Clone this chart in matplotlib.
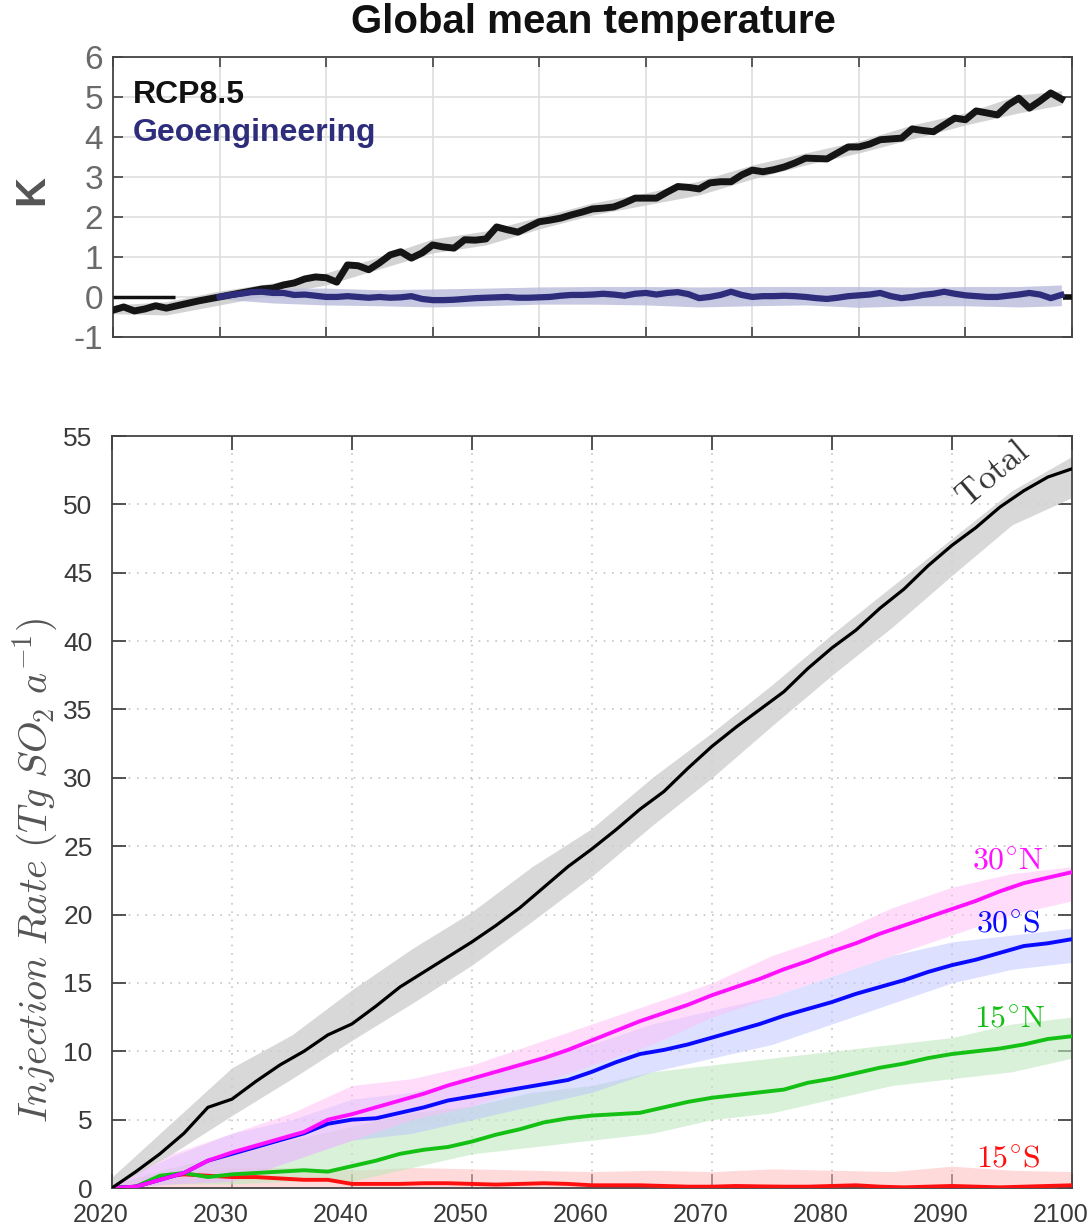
import numpy as np
import matplotlib
matplotlib.use("Agg")
import matplotlib.pyplot as plt
import matplotlib.transforms as mtransforms

plt.rcParams['font.family'] = ['Liberation Sans', 'DejaVu Sans']
plt.rcParams['mathtext.fontset'] = 'cm'
plt.rcParams['axes.unicode_minus'] = False

# ---- top panel data: global mean temperature (K) ----
rcp_years = list(range(2010, 2100))
rcp85 = [-0.33, -0.25, -0.35, -0.30, -0.22, -0.28, -0.22, -0.16, -0.10, -0.05,
         0.00, 0.05, 0.10, 0.15, 0.20, 0.22, 0.30, 0.35, 0.45, 0.50,
         0.48, 0.37, 0.80, 0.78, 0.68, 0.85, 1.05, 1.13, 0.97, 1.10,
         1.30, 1.25, 1.22, 1.43, 1.42, 1.45, 1.75, 1.68, 1.62, 1.75,
         1.88, 1.92, 1.97, 2.05, 2.12, 2.20, 2.22, 2.25, 2.35, 2.47,
         2.47, 2.47, 2.62, 2.76, 2.74, 2.70, 2.85, 2.88, 2.88, 3.05,
         3.17, 3.13, 3.18, 3.25, 3.35, 3.47, 3.46, 3.45, 3.60, 3.75,
         3.75, 3.82, 3.93, 3.95, 3.97, 4.20, 4.16, 4.13, 4.30, 4.47,
         4.43, 4.65, 4.60, 4.55, 4.80, 4.97, 4.72, 4.90, 5.10, 4.95]

geo_years = list(range(2020, 2100))
geo = [0.00, 0.05, 0.08, 0.12, 0.13, 0.10, 0.10, 0.05, 0.06, 0.03,
       0.00, 0.00, 0.02, 0.00, -0.02, 0.00, -0.02, -0.01, 0.02, -0.05,
       -0.08, -0.08, -0.07, -0.05, -0.03, -0.02, -0.01, 0.00, -0.02, -0.02,
       -0.01, 0.00, 0.03, 0.05, 0.05, 0.06, 0.08, 0.06, 0.03, 0.08,
       0.10, 0.06, 0.10, 0.12, 0.07, -0.03, 0.00, 0.05, 0.13, 0.05,
       0.00, 0.02, 0.02, 0.03, 0.02, 0.00, -0.03, -0.05, -0.02, 0.02,
       0.04, 0.06, 0.10, 0.02, -0.03, 0.00, 0.05, 0.08, 0.13, 0.08,
       0.04, 0.02, 0.00, 0.00, 0.03, 0.06, 0.10, 0.06, -0.03, 0.05]

# ensemble spread envelopes
rcp_band_years = [2010, 2015, 2020, 2025, 2030, 2035, 2040, 2045, 2050, 2055,
                  2060, 2065, 2070, 2075, 2080, 2085, 2090, 2095, 2099]
rcp_lo = [-0.42, -0.45, -0.20, 0.05, 0.30, 0.70, 1.10, 1.30, 1.70, 2.05,
          2.30, 2.55, 2.95, 3.30, 3.60, 3.95, 4.30, 4.60, 4.80]
rcp_hi = [-0.20, -0.12, 0.15, 0.35, 0.60, 1.00, 1.45, 1.65, 2.00, 2.35,
          2.60, 2.90, 3.30, 3.60, 3.90, 4.30, 4.60, 5.05, 5.15]

geo_band_years = [2020, 2025, 2030, 2035, 2040, 2045, 2050, 2055, 2060,
                  2065, 2070, 2075, 2080, 2085, 2090, 2095, 2099]
geo_lo = [-0.05, -0.15, -0.20, -0.22, -0.25, -0.22, -0.18, -0.18, -0.20,
          -0.25, -0.22, -0.20, -0.26, -0.22, -0.22, -0.25, -0.22]
geo_hi = [0.05, 0.22, 0.22, 0.18, 0.20, 0.22, 0.25, 0.26, 0.26,
          0.25, 0.26, 0.26, 0.26, 0.25, 0.26, 0.26, 0.30]

# ---- bottom panel data: injection rate (Tg SO2 / a) ----
inj_years = list(range(2020, 2101, 2))
total = [0.0, 1.2, 2.5, 4.0, 5.9, 6.5, 7.8, 9.0, 10.0, 11.2,
         12.0, 13.3, 14.7, 15.8, 16.9, 18.0, 19.2, 20.5, 22.0, 23.5,
         24.8, 26.2, 27.7, 29.0, 30.7, 32.3, 33.7, 35.0, 36.3, 38.0,
         39.5, 40.8, 42.4, 43.8, 45.5, 47.0, 48.3, 49.8, 51.0, 52.0, 52.6]
n30 = [0.0, 0.1, 0.6, 1.1, 2.0, 2.6, 3.1, 3.6, 4.1, 5.0,
       5.4, 5.9, 6.4, 6.9, 7.5, 8.0, 8.5, 9.0, 9.5, 10.1,
       10.8, 11.5, 12.2, 12.8, 13.4, 14.1, 14.7, 15.3, 16.0, 16.6,
       17.3, 17.9, 18.6, 19.2, 19.8, 20.4, 21.0, 21.7, 22.3, 22.7, 23.1]
s30 = [0.0, 0.1, 0.6, 1.1, 2.0, 2.5, 3.0, 3.5, 4.0, 4.7,
       5.0, 5.1, 5.5, 5.9, 6.4, 6.7, 7.0, 7.3, 7.6, 7.9,
       8.5, 9.2, 9.8, 10.1, 10.5, 11.0, 11.5, 12.0, 12.6, 13.1,
       13.6, 14.2, 14.7, 15.2, 15.8, 16.3, 16.7, 17.2, 17.7, 17.9, 18.2]
n15 = [0.0, 0.1, 0.9, 1.1, 0.8, 1.0, 1.1, 1.2, 1.3, 1.2,
       1.6, 2.0, 2.5, 2.8, 3.0, 3.4, 3.9, 4.3, 4.8, 5.1,
       5.3, 5.4, 5.5, 5.9, 6.3, 6.6, 6.8, 7.0, 7.2, 7.7,
       8.0, 8.4, 8.8, 9.1, 9.5, 9.8, 10.0, 10.2, 10.5, 10.9, 11.1]
s15 = [0.0, 0.1, 0.8, 1.0, 0.9, 0.8, 0.8, 0.7, 0.6, 0.6,
       0.3, 0.3, 0.3, 0.35, 0.35, 0.3, 0.25, 0.3, 0.35, 0.3,
       0.2, 0.2, 0.2, 0.15, 0.1, 0.1, 0.15, 0.12, 0.1, 0.1,
       0.15, 0.2, 0.1, 0.05, 0.1, 0.15, 0.1, 0.05, 0.1, 0.15, 0.2]

band_years = list(range(2020, 2101, 5))
total_lo = [0.0, 2.5, 5.3, 8.0, 10.8, 13.5, 16.3, 19.5, 22.8, 26.5,
            30.0, 33.8, 37.5, 41.0, 44.8, 48.5, 50.5]
total_hi = [0.8, 4.8, 8.8, 11.2, 14.5, 17.5, 20.2, 23.5, 26.3, 30.0,
            33.3, 36.8, 40.5, 44.0, 47.5, 51.0, 53.5]
n30_lo = [0.0, 0.3, 0.5, 2.0, 3.5, 5.0, 6.0, 7.5, 9.0, 10.5,
          12.5, 14.0, 15.5, 17.0, 18.5, 20.0, 21.0]
n30_hi = [0.3, 2.5, 4.0, 5.5, 7.5, 8.0, 9.0, 10.5, 12.0, 13.5,
          15.0, 17.0, 18.5, 20.5, 22.0, 23.0, 23.5]
s30_lo = [0.0, 0.3, 0.5, 2.0, 3.5, 4.0, 5.0, 6.0, 7.0, 8.5,
          9.5, 10.5, 12.0, 13.5, 15.0, 16.0, 16.5]
s30_hi = [0.3, 2.3, 4.0, 5.0, 6.5, 7.0, 8.0, 9.5, 10.5, 12.0,
          13.0, 14.0, 15.5, 17.0, 18.0, 18.5, 19.0]
n15_lo = [0.0, 0.3, 0.3, 0.5, 0.5, 1.5, 2.5, 3.0, 3.5, 4.0,
          5.0, 5.5, 6.5, 7.5, 8.0, 8.5, 9.5]
n15_hi = [0.3, 1.5, 2.5, 3.5, 4.5, 5.5, 6.0, 7.0, 7.5, 8.5,
          9.0, 9.5, 10.0, 10.5, 11.0, 12.0, 12.5]
s15_lo = [0.0] * 17
s15_hi = [0.2, 1.3, 1.5, 1.5, 1.3, 1.5, 1.4, 1.3, 1.2, 1.3,
          1.2, 1.4, 1.3, 1.2, 1.6, 1.3, 1.2]

navy = '#2e2d7c'

fig = plt.figure(figsize=(10.89, 12.32), dpi=100)

# ---------------- top panel ----------------
ax1 = fig.add_axes([0.1038, 0.7265, 0.8806, 0.2273])
ax1.fill_between(rcp_band_years, rcp_lo, rcp_hi, color='#c8c8c8', alpha=0.8, lw=0, zorder=1)
ax1.fill_between(geo_band_years, geo_lo, geo_hi, color='#b9bcdc', alpha=0.8, lw=0, zorder=2)
ax1.hlines(0, 2010, 2015.8, color='#111111', lw=2.5, zorder=3)
ax1.hlines(0, 2099.2, 2100, color='#111111', lw=4, zorder=3)
ax1.plot(rcp_years, rcp85, color='#151515', lw=5, zorder=4)
ax1.plot(geo_years, geo, color=navy, lw=4.5, zorder=5)
ax1.set_xlim(2010, 2100)
ax1.set_ylim(-1, 6)
ax1.set_xticks(range(2010, 2101, 10))
ax1.set_yticks(range(-1, 7))
ax1.set_xticklabels([])
ax1.grid(True, color='#dedede', lw=1.2)
ax1.set_axisbelow(True)
ax1.tick_params(direction='in', length=7, width=1.2, colors='#444444',
                labelcolor='#6a6a6a', labelsize=24, top=True, right=True, pad=7)
for s in ax1.spines.values():
    s.set_color('#444444')
    s.set_linewidth(1.3)
ax1.text(0.021, 0.836, 'RCP8.5', transform=ax1.transAxes, fontsize=23,
         fontweight='bold', color='#111111', va='baseline')
ax1.text(0.021, 0.70, 'Geoengineering', transform=ax1.transAxes, fontsize=23,
         fontweight='bold', color=navy, va='baseline')
fig.text(32 / 1089, 1 - 190 / 1232, 'K', fontsize=30, fontweight='bold',
         color='#555555', rotation=90, ha='center', va='center')
fig.text(593 / 1089, 1 - 22 / 1232, 'Global mean temperature', fontsize=29,
         fontweight='bold', color='#111111', ha='center', va='center')

# ---------------- bottom panel ----------------
ax2 = fig.add_axes([0.1028, 0.0357, 0.8815, 0.6104])
ax2.fill_between(band_years, s15_lo, s15_hi, color='#ffbcbc', alpha=0.55, lw=0, zorder=1)
ax2.fill_between(band_years, n15_lo, n15_hi, color='#bfe8bf', alpha=0.6, lw=0, zorder=1)
ax2.fill_between(band_years, s30_lo, s30_hi, color='#bcc2ff', alpha=0.5, lw=0, zorder=1)
ax2.fill_between(band_years, n30_lo, n30_hi, color='#ffbdf6', alpha=0.5, lw=0, zorder=1)
ax2.fill_between(band_years, total_lo, total_hi, color='#cfcfcf', alpha=0.8, lw=0, zorder=1)
ax2.plot(inj_years, s15, color='#ff1010', lw=2.8, zorder=3)
ax2.plot(inj_years, n15, color='#15c015', lw=2.8, zorder=3)
ax2.plot(inj_years, s30, color='#0a0aff', lw=2.8, zorder=3)
ax2.plot(inj_years, n30, color='#ff10ff', lw=2.8, zorder=3)
ax2.plot(inj_years, total, color='#000000', lw=2.3, zorder=4)
ax2.set_xlim(2020, 2100)
ax2.set_ylim(0, 55)
ax2.set_xticks(range(2020, 2101, 10))
ax2.set_yticks(range(0, 56, 5))
ax2.grid(True, color='#c4c4c4', lw=1.2, linestyle=(0, (1, 4)))
ax2.set_axisbelow(True)
ax2.tick_params(direction='in', length=10, width=1.3, colors='#444444',
                labelcolor='#3a3a3a', labelsize=19, top=True, right=True)
ax2.tick_params(axis='y', pad=14)
ax2.tick_params(axis='x', pad=11, labelsize=18)
shift = mtransforms.ScaledTranslation(-8 / 72, 0, fig.dpi_scale_trans)
for lab in ax2.get_xticklabels():
    lab.set_transform(lab.get_transform() + shift)
for s in ax2.spines.values():
    s.set_color('#444444')
    s.set_linewidth(1.3)
fig.text(35 / 1089, 1 - 870 / 1232, r'$Injection\ Rate\ (Tg\ SO_2\ a^{-1})$',
         fontsize=29, color='#555555', rotation=90, ha='center', va='center')

ax2.text(2093.4, 52.2, r'$\mathrm{Total}$', fontsize=25, color='#333333',
         rotation=40, ha='center', va='center')
ax2.text(2094.7, 23.9, r'$\mathrm{30^{\circ}N}$', fontsize=23, color='#ff10ff',
         ha='center', va='center')
ax2.text(2094.7, 19.3, r'$\mathrm{30^{\circ}S}$', fontsize=23, color='#0a0aff',
         ha='center', va='center')
ax2.text(2094.8, 12.3, r'$\mathrm{15^{\circ}N}$', fontsize=23, color='#15c015',
         ha='center', va='center')
ax2.text(2094.7, 2.1, r'$\mathrm{15^{\circ}S}$', fontsize=23, color='#ff1010',
         ha='center', va='center')

fig.savefig('out.png', dpi=100)
